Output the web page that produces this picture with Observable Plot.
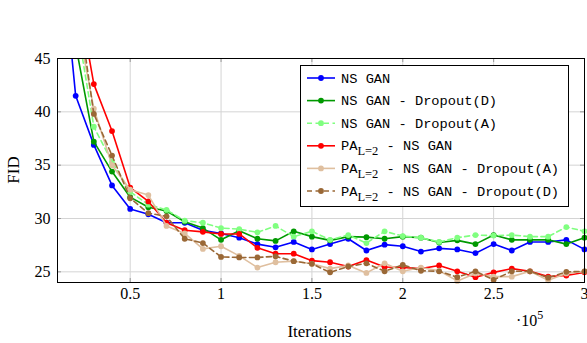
<!DOCTYPE html>
<html><head><meta charset="utf-8">
<script src="https://cdn.jsdelivr.net/npm/d3@7"></script>
<script src="https://cdn.jsdelivr.net/npm/@observablehq/plot@0.6"></script>
<style>
body{margin:0;background:#fff}
#chart{width:587px;height:343px;position:relative}
</style>
</head><body><div id="chart"></div>
<script>
// Iterations (×10^5)
const iterations = [0.1,0.2,0.3,0.4,0.5,0.6,0.7,0.8,0.9,1.0,1.1,1.2,1.3,1.4,1.5,1.6,1.7,1.8,1.9,2.0,2.1,2.2,2.3,2.4,2.5,2.6,2.7,2.8,2.9,3.0];

const nsGan        = [59,41.5,36.9,33.1,30.9,30.4,29.6,29.6,28.9,28.6,28.2,27.6,27.3,27.8,27.1,27.6,28.1,27.0,27.55,27.4,26.9,27.2,27.1,26.75,27.6,27.0,27.8,27.8,28.0,27.1];
const nsGanDropD   = [65,46.3,37.2,34.4,32.0,31.05,30.7,29.7,29.1,28.0,28.85,28.1,27.9,28.8,28.3,27.95,28.3,28.25,28.1,28.3,28.2,27.75,27.95,27.6,28.45,28.0,28.0,28.0,27.6,28.2];
const nsGanDropA   = [68,48.9,38.6,35.3,32.5,31.3,30.8,29.8,29.6,29.1,29.0,28.7,29.3,28.3,28.8,28.0,28.45,27.7,28.8,28.35,28.2,27.8,28.2,28.45,28.4,28.45,28.3,28.3,29.2,28.8];
const paNsGan      = [75,52.2,42.6,38.2,32.9,31.6,29.6,28.9,28.75,28.55,28.55,27.25,26.7,26.7,26.05,25.9,25.5,26.1,25.45,25.4,25.3,25.6,25.05,24.5,24.95,25.3,25.05,24.55,24.65,24.95];
const paNsGanDropA = [70,49.2,40.3,35.0,32.7,32.2,29.3,28.6,27.15,27.4,26.5,25.4,25.9,26.0,25.75,25.3,25.6,24.9,25.8,25.05,25.4,25.1,24.15,24.85,24.55,24.55,25.05,24.2,24.85,25.05];
const paNsGanDropD = [72,51.6,39.8,35.9,31.9,30.5,30.2,28.1,27.7,26.4,26.35,26.35,26.45,26.0,25.75,24.95,25.5,25.8,25.05,25.65,25.1,25.05,24.5,25.05,24.25,25.05,25.05,24.45,25.0,25.05];

const seriesLabels = [
  {pre: "NS GAN", sub: null, post: ""},
  {pre: "NS GAN - Dropout(D)", sub: null, post: ""},
  {pre: "NS GAN - Dropout(A)", sub: null, post: ""},
  {pre: "PA", sub: "L=2", post: " - NS GAN"},
  {pre: "PA", sub: "L=2", post: " - NS GAN - Dropout(A)"},
  {pre: "PA", sub: "L=2", post: " - NS GAN - Dropout(D)"}
];
const seriesColors = ["#0000ff", "#009900", "#80ff80", "#ff0000", "#dfbf9f", "#9a6836"];
const seriesDashed = [false, false, true, false, false, true];

const xTicks = [0.5, 1, 1.5, 2, 2.5, 3];
const yTicks = [25, 30, 35, 40, 45];

const seriesValues = [nsGan, nsGanDropD, nsGanDropA, paNsGan, paNsGanDropA, paNsGanDropD];
const rows = seriesValues.flatMap((vals, s) => vals.map((v, i) => ({x: iterations[i], y: v, s})));

const W = 587, H = 343;
const mL = 57, mR = 3, mT = 58, mB = 61;
const frameW = W - mL - mR, frameH = H - mT - mB;
const tickLen = 4;

const marks = [
  Plot.gridX(xTicks, {stroke: "#d4d4d4", strokeOpacity: 1, strokeWidth: 1}),
  Plot.gridY(yTicks, {stroke: "#d4d4d4", strokeOpacity: 1, strokeWidth: 1}),
  Plot.tickX(xTicks, {x: d => d, insetTop: frameH - tickLen, stroke: "#999"}),
  Plot.tickX(xTicks, {x: d => d, insetBottom: frameH - tickLen, stroke: "#999"}),
  Plot.tickY(yTicks, {y: d => d, insetRight: frameW - tickLen, stroke: "#999"}),
  Plot.tickY(yTicks, {y: d => d, insetLeft: frameW - tickLen, stroke: "#999"}),
  Plot.axisX(xTicks, {tickSize: 0, tickPadding: 5, label: null, tickFormat: d => String(d), fontSize: 16}),
  Plot.axisY(yTicks, {tickSize: 0, tickPadding: 7, label: null, tickFormat: d => String(d), fontSize: 16})
];
seriesValues.forEach((vals, s) => {
  const d = rows.filter(r => r.s === s);
  marks.push(Plot.line(d, {x: "x", y: "y", stroke: seriesColors[s], strokeWidth: 1.6,
    strokeDasharray: seriesDashed[s] ? "5,3.5" : null, clip: true}));
  marks.push(Plot.dot(d.filter(r => r.y <= 45), {x: "x", y: "y", fill: seriesColors[s], r: 2.9, stroke: "none"}));
});
marks.push(Plot.frame({stroke: "#000", strokeWidth: 1}));

const svg = Plot.plot({
  width: W, height: H,
  marginLeft: mL, marginRight: mR, marginTop: mT, marginBottom: mB,
  x: {domain: [0.1, 3.0]},
  y: {domain: [24, 45]},
  style: {fontFamily: "'Liberation Serif', 'DejaVu Serif', serif", fontSize: "16px", background: "#fff", color: "#000"},
  marks
});
document.getElementById("chart").appendChild(svg);

const sel = d3.select(svg);
// axis titles
sel.append("text").attr("x", mL + frameW / 2 - 1).attr("y", 337).attr("text-anchor", "middle")
  .attr("font-family", "'Liberation Serif', serif").attr("font-size", 17).attr("fill", "#000").text("Iterations");
sel.append("text").attr("transform", `translate(19,${mT + frameH / 2}) rotate(-90)`).attr("text-anchor", "middle")
  .attr("font-family", "'Liberation Serif', serif").attr("font-size", 17).attr("fill", "#000").text("FID");
const exp = sel.append("text").attr("x", 516).attr("y", 326).attr("text-anchor", "start")
  .attr("font-family", "'Liberation Serif', serif").attr("font-size", 16).attr("fill", "#000");
exp.append("tspan").text("\u00b710");
exp.append("tspan").attr("font-size", 12).attr("dy", -7).text("5");

// legend
const lg = sel.append("g").attr("text-anchor", "start");
const lx = 300, ly = 65, lw = 268, lh = 141;
lg.append("rect").attr("x", lx + 0.5).attr("y", ly + 0.5).attr("width", lw).attr("height", lh)
  .attr("fill", "#fff").attr("stroke", "#000").attr("stroke-width", 1);
seriesLabels.forEach((lab, i) => {
  const cy = 78 + i * 22.6;
  lg.append("line").attr("x1", 307).attr("x2", 335).attr("y1", cy).attr("y2", cy)
    .attr("stroke", seriesColors[i]).attr("stroke-width", 1.6)
    .attr("stroke-dasharray", seriesDashed[i] ? "5,3.5" : null);
  lg.append("circle").attr("cx", 321).attr("cy", cy).attr("r", 2.9).attr("fill", seriesColors[i]);
  const t = lg.append("text").attr("x", 341).attr("y", cy + 4.6).attr("text-anchor", "start")
    .attr("font-family", "'Liberation Mono', 'DejaVu Sans Mono', monospace").attr("font-size", 13.7)
    .attr("fill", "#000").attr("xml:space", "preserve").style("white-space", "pre");
  t.append("tspan").text(lab.pre);
  if (lab.sub) {
    t.append("tspan").attr("font-family", "'Liberation Serif', serif").attr("font-size", 12.5).attr("dy", 5).text(lab.sub);
    t.append("tspan").attr("dy", -5).text(lab.post);
  }
});
</script>
</body></html>
